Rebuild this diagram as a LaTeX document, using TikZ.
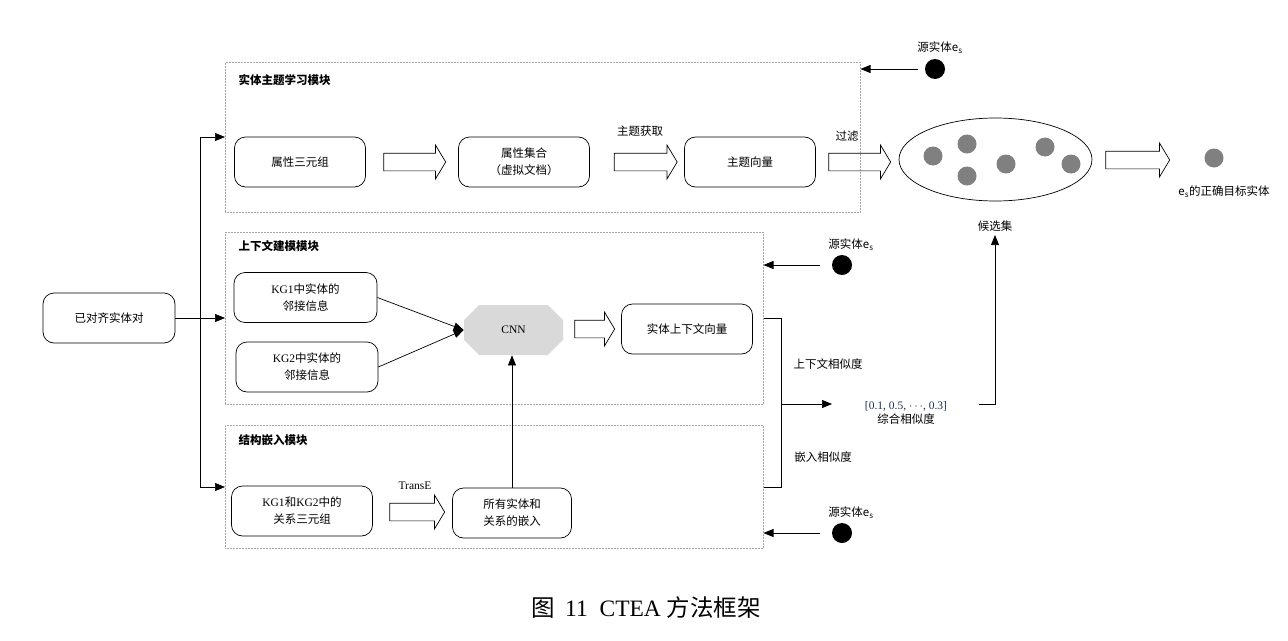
\documentclass[tikz,border=0pt]{standalone}
\usepackage{fontspec}
\setmainfont{Liberation Serif}
\newfontfamily\cjk{Noto Sans CJK SC}
\usetikzlibrary{arrows.meta,shapes.geometric,shapes.arrows,shapes.misc,positioning}

\definecolor{dotgray}{RGB}{128,128,128}
\definecolor{cnngray}{RGB}{217,217,217}
\definecolor{numblue}{RGB}{31,45,90}

\begin{document}
\begin{tikzpicture}[x=1pt,y=-1pt,line width=0.7pt,
    every node/.style={font=\cjk\fontsize{11.5}{17}\selectfont},
    module/.style={draw=black!35, densely dotted, line width=0.5pt, anchor=north west, inner sep=0pt},
    modtitle/.style={anchor=west, font=\cjk\bfseries\fontsize{11.5}{17}\selectfont},
    box/.style={draw, rounded corners=11pt, align=center, minimum width=131, minimum height=50, inner sep=2pt},
    bigarrow/.style={single arrow, draw, inner xsep=0pt, inner ysep=8.5pt, minimum width=33, single arrow head extend=8pt, single arrow tip angle=118},
    cnnbox/.style={chamfered rectangle, fill=cnngray, draw=none, minimum width=99, minimum height=50, chamfered rectangle xsep=8pt, chamfered rectangle ysep=8pt},
    blackdot/.style={circle, fill=black, minimum size=20, inner sep=0pt},
    graydot/.style={circle, fill=dotgray, minimum size=19, inner sep=0pt},
    arr/.style={-{Triangle[length=10pt,width=8pt]}}]

    % Fix the page size
    \useasboundingbox (0,0) rectangle (1288,640);

    % Modules
    \node[module, minimum width=635, minimum height=150] (m1) at (225,62) {};
    \node[module, minimum width=538, minimum height=172] (m2) at (225,232) {};
    \node[module, minimum width=538, minimum height=123] (m3) at (225,425) {};
    \node[modtitle] (t1) at (235,80) {实体主题学习模块};
    \node[modtitle] (t2) at (235,246) {上下文建模模块};
    \node[modtitle] (t3) at (235,440) {结构嵌入模块};

    % Input
    \node[box, minimum width=132] (pair) at (109,318) {已对齐实体对};

    % Topic learning module
    \node[box] (attr) at (300,162) {属性三元组};
    \node[bigarrow, minimum height=62] (a1) at (412,162) {};
    \node[box] (doc) at (524,162) {属性集合\\（虚拟文档）};
    \node[bigarrow, minimum height=63] (a2) at (643,162) {};
    \node (get) at (640,131) {主题获取};
    \node[box] (topic) at (750,162) {主题向量};
    \node[bigarrow, minimum height=62] (a3) at (857,162) {};
    \node (filt) at (847,136) {过滤};

    % Candidate set
    \node[ellipse, draw, minimum width=193, minimum height=83] (cand) at (995.5,159.5) {};
    \node[graydot] (c1) at (933,156) {};
    \node[graydot] (c2) at (967,144) {};
    \node[graydot] (c3) at (967,176) {};
    \node[graydot] (c4) at (1006,164) {};
    \node[graydot] (c5) at (1045,147) {};
    \node[graydot] (c6) at (1071,164) {};
    \node (candlab) at (995,226) {候选集};
    \node[bigarrow, minimum height=64] (a4) at (1135,160) {};
    \node[graydot] (tgt) at (1214,158) {};
    \node (tgtlab) at (1224,192) {e\textsubscript{s}的正确目标实体};

    % Source entities
    \node[blackdot] (src1) at (935,69) {};
    \node (s1) at (940,48) {源实体e\textsubscript{s}};
    \node[blackdot] (src2) at (842,265) {};
    \node (s2) at (851,245) {源实体e\textsubscript{s}};
    \node[blackdot] (src3) at (842,533) {};
    \node (s3) at (851,513) {源实体e\textsubscript{s}};
    \draw[arr, shorten <=7pt] (src1) -- (src1 -| m1.east);
    \draw[arr, shorten <=12pt] (src2) -- (src2 -| m2.east);
    \draw[arr, shorten <=12pt] (src3) -- (src3 -| m3.east);

    % Context module
    \node[box, minimum width=143] (kg1) at (305.5,297.5) {\textrm{KG1}中实体的\\邻接信息};
    \node[box, minimum width=142] (kg2) at (307,367) {\textrm{KG2}中实体的\\邻接信息};
    \node[cnnbox] (cnn) at (513.5,330) {\textrm{CNN}};
    \node[bigarrow, minimum height=40] (a5) at (592,329) {};
    \node[box] (ctx) at (687,329) {实体上下文向量};
    \draw[arr] (kg1.east) -- (cnn.west);
    \draw[arr] (kg2.east) -- (cnn.west);

    % Structure embedding module
    \node[box, minimum width=141] (rel) at (302,511) {\textrm{KG1}和\textrm{KG2}中的\\关系三元组};
    \node[bigarrow, minimum height=55] (a6) at (414.5,512) {};
    \node (transe) at (415,486) {\textrm{TransE}};
    \node[box, minimum width=119] (emb) at (512,513) {所有实体和\\关系的嵌入};
    \draw[arr] (emb.north) -- (emb.north |- cnn.south);

    % Input branches
    \coordinate (j1) at (200,137);
    \coordinate (j3) at (200,487);
    \draw (j1) -- (j3);
    \draw[arr] (j1) -- (j1 -| m1.west);
    \draw[arr] (j3) -- (j3 -| m3.west);
    \draw[arr] (pair.east) -- (pair.east -| m2.west);

    % Similarities
    \coordinate (b1) at (781,318);
    \coordinate (b2) at (781,487);
    \coordinate (bm) at (781,404);
    \draw (b1 -| m2.east) -- (b1) -- (b2) -- (b2 -| m3.east);
    \draw[arr] (bm) -- ++(51,0);
    \node (csim) at (828,364) {上下文相似度};
    \node (esim) at (823,457) {嵌入相似度};
    \node[align=center] (score) at (906,413) {\textcolor{numblue}{\textrm{[0.1, 0.5, $\cdots$, 0.3]}}\\[-3pt]综合相似度};
    \coordinate (sc) at (979,404);
    \draw[arr] (sc) -| (candlab.south);

    % Caption
    \node (cap) at (646,608) {\fontsize{23.5}{26}\selectfont 图\hspace{0.45em}\rmfamily 11\ \ CTEA \cjk 方法框架};

\end{tikzpicture}
\end{document}
